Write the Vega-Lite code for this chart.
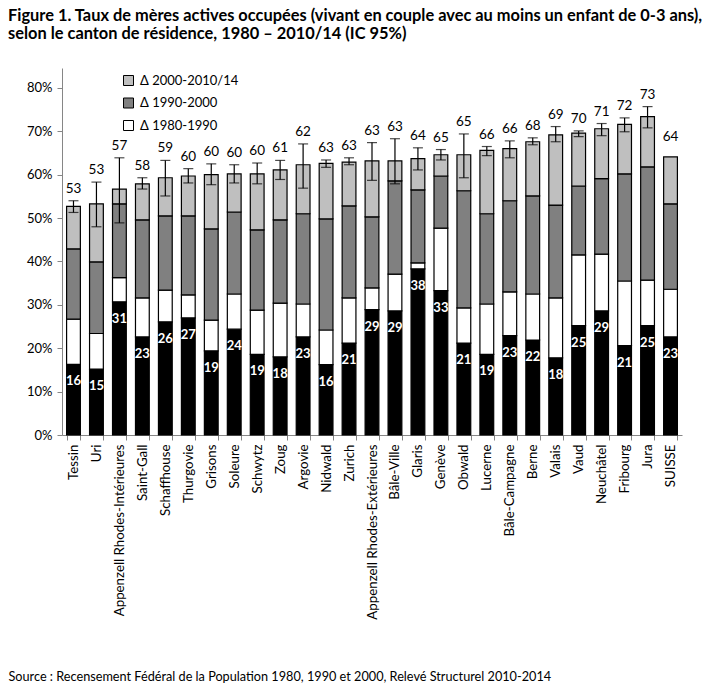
{
  "$schema": "https://vega.github.io/schema/vega-lite/v6.json",
  "width": 620,
  "height": 367,
  "autosize": {"type": "none"},
  "padding": {"left": 62, "top": 68, "right": 25, "bottom": 254},
  "title": {
    "text": ["Figure 1. Taux de mères actives occupées (vivant en couple avec au moins un enfant de 0-3 ans),", "selon le canton de résidence, 1980 – 2010/14 (IC 95%)"],
    "anchor": "start",
    "frame": "group",
    "dx": -54,
    "fontSize": 16.4,
    "fontWeight": "bold",
    "font": "Lato",
    "color": "#000000",
    "lineHeight": 18,
    "offset": 26
  },
  "datasets": {
    "segments": [
      {"canton": "Tessin", "periode": "1980", "valeur": 16.3}, {"canton": "Tessin", "periode": "Δ 1980-1990", "valeur": 10.4}, {"canton": "Tessin", "periode": "Δ 1990-2000", "valeur": 16.2}, {"canton": "Tessin", "periode": "Δ 2000-2010/14", "valeur": 9.8},
      {"canton": "Uri", "periode": "1980", "valeur": 15.2}, {"canton": "Uri", "periode": "Δ 1980-1990", "valeur": 8.2}, {"canton": "Uri", "periode": "Δ 1990-2000", "valeur": 16.5}, {"canton": "Uri", "periode": "Δ 2000-2010/14", "valeur": 13.4},
      {"canton": "Appenzell Rhodes-Intérieures", "periode": "1980", "valeur": 30.7}, {"canton": "Appenzell Rhodes-Intérieures", "periode": "Δ 1980-1990", "valeur": 5.6}, {"canton": "Appenzell Rhodes-Intérieures", "periode": "Δ 1990-2000", "valeur": 17.0}, {"canton": "Appenzell Rhodes-Intérieures", "periode": "Δ 2000-2010/14", "valeur": 3.4},
      {"canton": "Saint-Gall", "periode": "1980", "valeur": 22.6}, {"canton": "Saint-Gall", "periode": "Δ 1980-1990", "valeur": 9.0}, {"canton": "Saint-Gall", "periode": "Δ 1990-2000", "valeur": 18.0}, {"canton": "Saint-Gall", "periode": "Δ 2000-2010/14", "valeur": 8.3},
      {"canton": "Schaffhouse", "periode": "1980", "valeur": 26.1}, {"canton": "Schaffhouse", "periode": "Δ 1980-1990", "valeur": 7.3}, {"canton": "Schaffhouse", "periode": "Δ 1990-2000", "valeur": 17.1}, {"canton": "Schaffhouse", "periode": "Δ 2000-2010/14", "valeur": 8.8},
      {"canton": "Thurgovie", "periode": "1980", "valeur": 27.0}, {"canton": "Thurgovie", "periode": "Δ 1980-1990", "valeur": 5.3}, {"canton": "Thurgovie", "periode": "Δ 1990-2000", "valeur": 18.2}, {"canton": "Thurgovie", "periode": "Δ 2000-2010/14", "valeur": 9.2},
      {"canton": "Grisons", "periode": "1980", "valeur": 19.4}, {"canton": "Grisons", "periode": "Δ 1980-1990", "valeur": 7.1}, {"canton": "Grisons", "periode": "Δ 1990-2000", "valeur": 21.0}, {"canton": "Grisons", "periode": "Δ 2000-2010/14", "valeur": 12.5},
      {"canton": "Soleure", "periode": "1980", "valeur": 24.4}, {"canton": "Soleure", "periode": "Δ 1980-1990", "valeur": 8.1}, {"canton": "Soleure", "periode": "Δ 1990-2000", "valeur": 18.9}, {"canton": "Soleure", "periode": "Δ 2000-2010/14", "valeur": 8.8},
      {"canton": "Schwytz", "periode": "1980", "valeur": 18.6}, {"canton": "Schwytz", "periode": "Δ 1980-1990", "valeur": 10.2}, {"canton": "Schwytz", "periode": "Δ 1990-2000", "valeur": 18.5}, {"canton": "Schwytz", "periode": "Δ 2000-2010/14", "valeur": 12.9},
      {"canton": "Zoug", "periode": "1980", "valeur": 18.0}, {"canton": "Zoug", "periode": "Δ 1980-1990", "valeur": 12.4}, {"canton": "Zoug", "periode": "Δ 1990-2000", "valeur": 19.2}, {"canton": "Zoug", "periode": "Δ 2000-2010/14", "valeur": 11.5},
      {"canton": "Argovie", "periode": "1980", "valeur": 22.6}, {"canton": "Argovie", "periode": "Δ 1980-1990", "valeur": 7.6}, {"canton": "Argovie", "periode": "Δ 1990-2000", "valeur": 20.8}, {"canton": "Argovie", "periode": "Δ 2000-2010/14", "valeur": 11.3},
      {"canton": "Nidwald", "periode": "1980", "valeur": 16.2}, {"canton": "Nidwald", "periode": "Δ 1980-1990", "valeur": 8.0}, {"canton": "Nidwald", "periode": "Δ 1990-2000", "valeur": 25.6}, {"canton": "Nidwald", "periode": "Δ 2000-2010/14", "valeur": 12.8},
      {"canton": "Zurich", "periode": "1980", "valeur": 21.2}, {"canton": "Zurich", "periode": "Δ 1980-1990", "valeur": 10.4}, {"canton": "Zurich", "periode": "Δ 1990-2000", "valeur": 21.2}, {"canton": "Zurich", "periode": "Δ 2000-2010/14", "valeur": 10.1},
      {"canton": "Appenzell Rhodes-Extérieures", "periode": "1980", "valeur": 28.9}, {"canton": "Appenzell Rhodes-Extérieures", "periode": "Δ 1980-1990", "valeur": 5.0}, {"canton": "Appenzell Rhodes-Extérieures", "periode": "Δ 1990-2000", "valeur": 16.4}, {"canton": "Appenzell Rhodes-Extérieures", "periode": "Δ 2000-2010/14", "valeur": 12.9},
      {"canton": "Bâle-Ville", "periode": "1980", "valeur": 28.6}, {"canton": "Bâle-Ville", "periode": "Δ 1980-1990", "valeur": 8.5}, {"canton": "Bâle-Ville", "periode": "Δ 1990-2000", "valeur": 21.5}, {"canton": "Bâle-Ville", "periode": "Δ 2000-2010/14", "valeur": 4.6},
      {"canton": "Glaris", "periode": "1980", "valeur": 38.3}, {"canton": "Glaris", "periode": "Δ 1980-1990", "valeur": 1.4}, {"canton": "Glaris", "periode": "Δ 1990-2000", "valeur": 16.8}, {"canton": "Glaris", "periode": "Δ 2000-2010/14", "valeur": 7.2},
      {"canton": "Genève", "periode": "1980", "valeur": 33.3}, {"canton": "Genève", "periode": "Δ 1980-1990", "valeur": 14.4}, {"canton": "Genève", "periode": "Δ 1990-2000", "valeur": 12.0}, {"canton": "Genève", "periode": "Δ 2000-2010/14", "valeur": 4.9},
      {"canton": "Obwald", "periode": "1980", "valeur": 21.2}, {"canton": "Obwald", "periode": "Δ 1980-1990", "valeur": 8.1}, {"canton": "Obwald", "periode": "Δ 1990-2000", "valeur": 27.0}, {"canton": "Obwald", "periode": "Δ 2000-2010/14", "valeur": 8.3},
      {"canton": "Lucerne", "periode": "1980", "valeur": 18.6}, {"canton": "Lucerne", "periode": "Δ 1980-1990", "valeur": 11.6}, {"canton": "Lucerne", "periode": "Δ 1990-2000", "valeur": 20.8}, {"canton": "Lucerne", "periode": "Δ 2000-2010/14", "valeur": 14.6},
      {"canton": "Bâle-Campagne", "periode": "1980", "valeur": 22.9}, {"canton": "Bâle-Campagne", "periode": "Δ 1980-1990", "valeur": 10.1}, {"canton": "Bâle-Campagne", "periode": "Δ 1990-2000", "valeur": 21.0}, {"canton": "Bâle-Campagne", "periode": "Δ 2000-2010/14", "valeur": 12.0},
      {"canton": "Berne", "periode": "1980", "valeur": 21.9}, {"canton": "Berne", "periode": "Δ 1980-1990", "valeur": 10.6}, {"canton": "Berne", "periode": "Δ 1990-2000", "valeur": 22.6}, {"canton": "Berne", "periode": "Δ 2000-2010/14", "valeur": 12.5},
      {"canton": "Valais", "periode": "1980", "valeur": 17.8}, {"canton": "Valais", "periode": "Δ 1980-1990", "valeur": 13.8}, {"canton": "Valais", "periode": "Δ 1990-2000", "valeur": 21.4}, {"canton": "Valais", "periode": "Δ 2000-2010/14", "valeur": 16.2},
      {"canton": "Vaud", "periode": "1980", "valeur": 25.2}, {"canton": "Vaud", "periode": "Δ 1980-1990", "valeur": 16.3}, {"canton": "Vaud", "periode": "Δ 1990-2000", "valeur": 15.9}, {"canton": "Vaud", "periode": "Δ 2000-2010/14", "valeur": 12.2},
      {"canton": "Neuchâtel", "periode": "1980", "valeur": 28.6}, {"canton": "Neuchâtel", "periode": "Δ 1980-1990", "valeur": 13.1}, {"canton": "Neuchâtel", "periode": "Δ 1990-2000", "valeur": 17.4}, {"canton": "Neuchâtel", "periode": "Δ 2000-2010/14", "valeur": 11.5},
      {"canton": "Fribourg", "periode": "1980", "valeur": 20.6}, {"canton": "Fribourg", "periode": "Δ 1980-1990", "valeur": 14.9}, {"canton": "Fribourg", "periode": "Δ 1990-2000", "valeur": 24.7}, {"canton": "Fribourg", "periode": "Δ 2000-2010/14", "valeur": 11.4},
      {"canton": "Jura", "periode": "1980", "valeur": 25.2}, {"canton": "Jura", "periode": "Δ 1980-1990", "valeur": 10.5}, {"canton": "Jura", "periode": "Δ 1990-2000", "valeur": 26.1}, {"canton": "Jura", "periode": "Δ 2000-2010/14", "valeur": 11.6},
      {"canton": "SUISSE", "periode": "1980", "valeur": 22.6}, {"canton": "SUISSE", "periode": "Δ 1980-1990", "valeur": 11.0}, {"canton": "SUISSE", "periode": "Δ 1990-2000", "valeur": 19.7}, {"canton": "SUISSE", "periode": "Δ 2000-2010/14", "valeur": 10.8}
    ],
    "totaux": [
      {"canton": "Tessin", "total": 52.7, "etiquette": 53, "bas": 51.3, "haut": 54.0},
      {"canton": "Uri", "total": 53.3, "etiquette": 53, "bas": 48.0, "haut": 58.3},
      {"canton": "Appenzell Rhodes-Intérieures", "total": 56.7, "etiquette": 57, "bas": 48.9, "haut": 63.9},
      {"canton": "Saint-Gall", "total": 57.9, "etiquette": 58, "bas": 56.7, "haut": 59.3},
      {"canton": "Schaffhouse", "total": 59.3, "etiquette": 59, "bas": 55.1, "haut": 63.3},
      {"canton": "Thurgovie", "total": 59.7, "etiquette": 60, "bas": 58.1, "haut": 61.4},
      {"canton": "Grisons", "total": 60.0, "etiquette": 60, "bas": 57.7, "haut": 62.5},
      {"canton": "Soleure", "total": 60.2, "etiquette": 60, "bas": 58.1, "haut": 62.3},
      {"canton": "Schwytz", "total": 60.2, "etiquette": 60, "bas": 57.9, "haut": 62.7},
      {"canton": "Zoug", "total": 61.1, "etiquette": 61, "bas": 58.9, "haut": 63.3},
      {"canton": "Argovie", "total": 62.3, "etiquette": 62, "bas": 56.9, "haut": 67.1},
      {"canton": "Nidwald", "total": 62.6, "etiquette": 63, "bas": 61.7, "haut": 63.4},
      {"canton": "Zurich", "total": 62.9, "etiquette": 63, "bas": 62.3, "haut": 63.9},
      {"canton": "Appenzell Rhodes-Extérieures", "total": 63.2, "etiquette": 63, "bas": 58.7, "haut": 67.4},
      {"canton": "Bâle-Ville", "total": 63.2, "etiquette": 63, "bas": 57.9, "haut": 68.3},
      {"canton": "Glaris", "total": 63.7, "etiquette": 64, "bas": 61.1, "haut": 66.2},
      {"canton": "Genève", "total": 64.6, "etiquette": 65, "bas": 63.4, "haut": 65.8},
      {"canton": "Obwald", "total": 64.6, "etiquette": 65, "bas": 59.3, "haut": 69.4},
      {"canton": "Lucerne", "total": 65.6, "etiquette": 66, "bas": 64.4, "haut": 66.5},
      {"canton": "Bâle-Campagne", "total": 66.0, "etiquette": 66, "bas": 63.9, "haut": 67.8},
      {"canton": "Berne", "total": 67.6, "etiquette": 68, "bas": 66.9, "haut": 68.5},
      {"canton": "Valais", "total": 69.2, "etiquette": 69, "bas": 67.6, "haut": 71.1},
      {"canton": "Vaud", "total": 69.6, "etiquette": 70, "bas": 68.8, "haut": 70.1},
      {"canton": "Neuchâtel", "total": 70.6, "etiquette": 71, "bas": 69.0, "haut": 71.8},
      {"canton": "Fribourg", "total": 71.6, "etiquette": 72, "bas": 69.9, "haut": 73.1},
      {"canton": "Jura", "total": 73.4, "etiquette": 73, "bas": 70.8, "haut": 75.7},
      {"canton": "SUISSE", "total": 64.1, "etiquette": 64, "bas": null, "haut": null}
    ]
  },
  "encoding": {
    "x": {
      "field": "canton",
      "type": "nominal",
      "sort": null,
      "scale": {"paddingInner": 0.4, "paddingOuter": 0.2},
      "axis": {
        "title": "Source : Recensement Fédéral de la Population 1980, 1990 et 2000, Relevé Structurel 2010-2014",
        "titleAnchor": "start",
        "titleAlign": "left",
        "titleBaseline": "alphabetic",
        "titleX": -54,
        "titleY": 245,
        "titleFontSize": 12.7,
        "titleFontWeight": "normal",
        "titleColor": "#000000",
        "labelAngle": -90,
        "labelAlign": "right",
        "labelBaseline": "middle",
        "labelFontSize": 13.3,
        "labelColor": "#000000",
        "labelPadding": 4,
        "tickBand": "extent",
        "tickSize": 5,
        "tickColor": "#868686",
        "domainColor": "#868686",
        "labelOverlap": false
      }
    }
  },
  "layer": [
    {
      "data": {"name": "segments"},
      "mark": {"type": "bar", "stroke": "#000000", "strokeWidth": 1.2},
      "encoding": {
        "y": {
          "field": "valeur",
          "type": "quantitative",
          "stack": "zero",
          "scale": {"domain": [0, 84.6], "nice": false},
          "axis": {
            "title": null,
            "values": [0, 10, 20, 30, 40, 50, 60, 70, 80],
            "labelExpr": "datum.value + '%'",
            "grid": false,
            "tickSize": 5,
            "tickColor": "#868686",
            "domainColor": "#868686",
            "labelFontSize": 13,
            "labelColor": "#000000",
            "labelPadding": 5
          }
        },
        "color": {
          "field": "periode",
          "type": "nominal",
          "scale": {
            "domain": ["1980", "Δ 1980-1990", "Δ 1990-2000", "Δ 2000-2010/14"],
            "range": ["#000000", "#ffffff", "#808080", "#bfbfbf"]
          },
          "legend": {
            "title": null,
            "orient": "none",
            "legendX": 60,
            "legendY": 6,
            "values": ["Δ 2000-2010/14", "Δ 1990-2000", "Δ 1980-1990"],
            "symbolType": "square",
            "symbolSize": 100,
            "symbolStrokeColor": "#000000",
            "symbolStrokeWidth": 1,
            "labelFontSize": 13,
            "labelColor": "#000000",
            "rowPadding": 7.5,
            "labelOffset": 5
          }
        },
        "order": {"field": "periode", "sort": "ascending"}
      }
    },
    {
      "data": {"name": "segments"},
      "transform": [{"filter": "datum.periode === '1980'"}],
      "mark": {"type": "text", "baseline": "middle", "dy": 17, "fontSize": 13, "fontWeight": "bold", "color": "#ffffff"},
      "encoding": {
        "y": {"field": "valeur", "type": "quantitative"},
        "text": {"field": "valeur", "type": "quantitative", "format": ".0f"}
      }
    },
    {
      "data": {"name": "totaux"},
      "mark": {"type": "rule", "color": "#000000", "strokeWidth": 1.2},
      "encoding": {
        "y": {"field": "bas", "type": "quantitative"},
        "y2": {"field": "haut"}
      }
    },
    {
      "data": {"name": "totaux"},
      "mark": {"type": "tick", "color": "#000000", "size": 10, "thickness": 1.2},
      "encoding": {"y": {"field": "bas", "type": "quantitative"}}
    },
    {
      "data": {"name": "totaux"},
      "mark": {"type": "tick", "color": "#000000", "size": 10, "thickness": 1.2},
      "encoding": {"y": {"field": "haut", "type": "quantitative"}}
    },
    {
      "data": {"name": "totaux"},
      "transform": [{"filter": "datum.haut != null"}],
      "mark": {"type": "text", "baseline": "middle", "dy": -12, "fontSize": 13.5, "color": "#000000"},
      "encoding": {
        "y": {"field": "haut", "type": "quantitative"},
        "text": {"field": "etiquette", "type": "quantitative"}
      }
    },
    {
      "data": {"name": "totaux"},
      "transform": [{"filter": "datum.haut == null"}],
      "mark": {"type": "text", "baseline": "middle", "dy": -20, "fontSize": 13.5, "color": "#000000"},
      "encoding": {
        "y": {"field": "total", "type": "quantitative"},
        "text": {"field": "etiquette", "type": "quantitative"}
      }
    }
  ],
  "config": {
    "view": {"stroke": null},
    "font": "Lato",
    "axis": {"labelFont": "Lato", "titleFont": "Lato"},
    "legend": {"labelFont": "Lato"},
    "text": {"font": "Lato"}
  }
}
